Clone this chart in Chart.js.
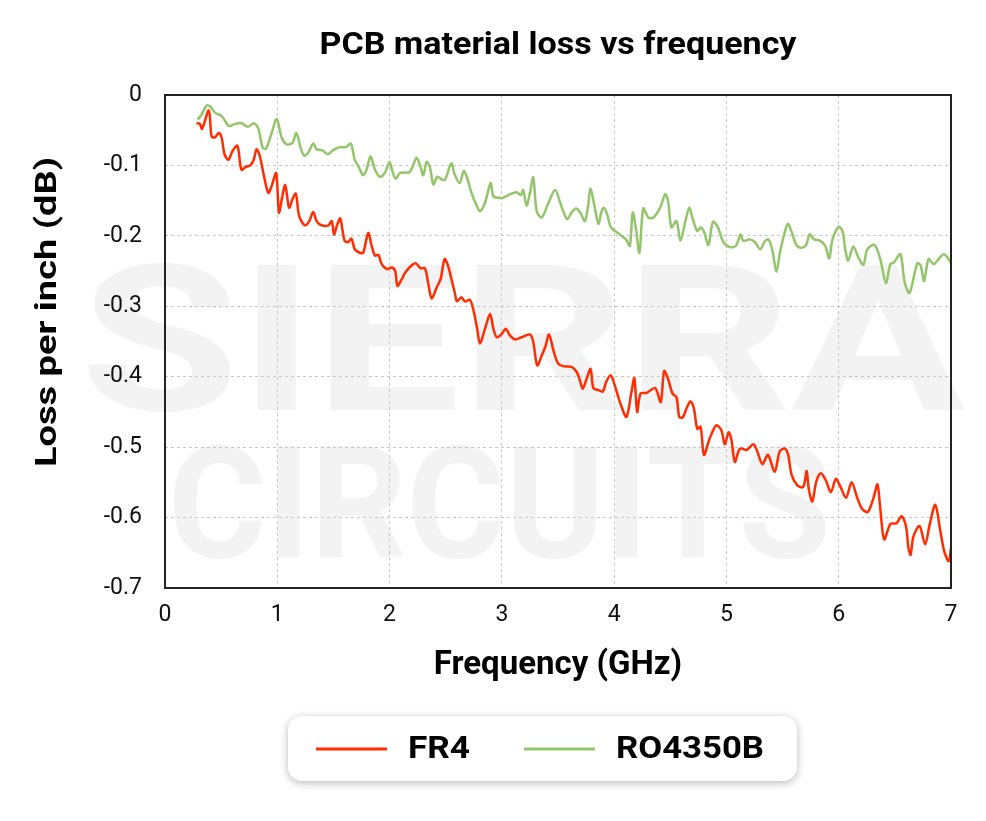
<!DOCTYPE html>
<html lang="en">
<head>
<meta charset="UTF-8">
<title>PCB material loss vs frequency</title>
<script src="https://cdn.jsdelivr.net/npm/chart.js"></script>
<style>
  html, body { margin: 0; padding: 0; background: #fff; }
  #wrap { width: 986px; height: 821px; }
</style>
</head>
<body>
<div id="wrap"><canvas id="lossChart" width="986" height="821"></canvas></div>
<script>
// axis ticks
const xTicks = [0, 1, 2, 3, 4, 5, 6, 7];
const yTicks = [0, -0.1, -0.2, -0.3, -0.4, -0.5, -0.6, -0.7];

// FR4 (GHz, dB/inch)
const fr4Freq = [0.28, 0.31, 0.33, 0.39, 0.415, 0.445, 0.48, 0.505, 0.53, 0.565, 0.6, 0.645, 0.68, 0.72, 0.76, 0.79, 0.815, 0.845, 0.875, 0.92,
  0.95, 0.99, 1.015, 1.04, 1.07, 1.105, 1.135, 1.165, 1.195, 1.245, 1.285, 1.32, 1.35, 1.395, 1.455, 1.485, 1.505, 1.53, 1.56, 1.58,
  1.6, 1.63, 1.66, 1.69, 1.735, 1.765, 1.81, 1.84, 1.87, 1.9, 1.93, 1.975, 2.02, 2.05, 2.07, 2.11, 2.14, 2.195, 2.235, 2.275,
  2.315, 2.345, 2.375, 2.42, 2.455, 2.49, 2.52, 2.55, 2.58, 2.6, 2.64, 2.67, 2.715, 2.745, 2.78, 2.805, 2.85, 2.895, 2.925, 2.955,
  3.0, 3.035, 3.07, 3.115, 3.175, 3.25, 3.28, 3.315, 3.355, 3.39, 3.42, 3.46, 3.5, 3.545, 3.62, 3.665, 3.695, 3.72, 3.755, 3.79,
  3.815, 3.86, 3.9, 3.93, 3.97, 4.005, 4.06, 4.11, 4.155, 4.18, 4.205, 4.235, 4.29, 4.365, 4.415, 4.445, 4.48, 4.52, 4.555, 4.58,
  4.61, 4.65, 4.68, 4.71, 4.74, 4.77, 4.8, 4.85, 4.91, 4.955, 4.985, 5.02, 5.045, 5.075, 5.12, 5.18, 5.24, 5.27, 5.32, 5.37,
  5.43, 5.475, 5.52, 5.55, 5.58, 5.63, 5.68, 5.7, 5.715, 5.735, 5.765, 5.8, 5.84, 5.885, 5.93, 5.975, 6.015, 6.065, 6.115, 6.165,
  6.21, 6.26, 6.31, 6.345, 6.37, 6.405, 6.46, 6.515, 6.56, 6.6, 6.62, 6.64, 6.665, 6.72, 6.77, 6.81, 6.86, 6.905, 6.94, 6.98, 7.0];
const fr4Loss = [-0.040, -0.041, -0.048, -0.022, -0.059, -0.060, -0.054, -0.061, -0.084, -0.092, -0.080, -0.072, -0.106, -0.102, -0.100, -0.092, -0.077, -0.087, -0.110, -0.139,
  -0.129, -0.111, -0.167, -0.148, -0.128, -0.160, -0.148, -0.140, -0.172, -0.185, -0.179, -0.166, -0.179, -0.185, -0.185, -0.179, -0.198, -0.186, -0.175, -0.191,
  -0.207, -0.209, -0.204, -0.219, -0.224, -0.224, -0.196, -0.214, -0.228, -0.227, -0.240, -0.247, -0.245, -0.250, -0.271, -0.261, -0.252, -0.242, -0.239, -0.246,
  -0.246, -0.268, -0.289, -0.273, -0.261, -0.233, -0.242, -0.261, -0.280, -0.293, -0.287, -0.293, -0.291, -0.304, -0.332, -0.353, -0.332, -0.311, -0.332, -0.344,
  -0.339, -0.332, -0.341, -0.347, -0.344, -0.340, -0.351, -0.384, -0.370, -0.356, -0.340, -0.363, -0.381, -0.385, -0.386, -0.393, -0.405, -0.417, -0.403, -0.389,
  -0.416, -0.419, -0.421, -0.407, -0.398, -0.412, -0.440, -0.457, -0.421, -0.402, -0.450, -0.424, -0.423, -0.416, -0.436, -0.392, -0.403, -0.424, -0.429, -0.457,
  -0.458, -0.443, -0.435, -0.445, -0.474, -0.471, -0.511, -0.488, -0.469, -0.476, -0.496, -0.479, -0.490, -0.521, -0.502, -0.504, -0.496, -0.504, -0.524, -0.511,
  -0.535, -0.506, -0.502, -0.511, -0.539, -0.554, -0.557, -0.547, -0.534, -0.561, -0.577, -0.549, -0.537, -0.547, -0.564, -0.545, -0.556, -0.572, -0.550, -0.572,
  -0.588, -0.592, -0.572, -0.553, -0.587, -0.631, -0.609, -0.608, -0.598, -0.613, -0.642, -0.653, -0.627, -0.612, -0.638, -0.610, -0.582, -0.619, -0.648, -0.662, -0.643];

// RO4350B (GHz, dB/inch)
const roFreq = [0.29, 0.325, 0.37, 0.4, 0.445, 0.505, 0.57, 0.625, 0.68, 0.74, 0.79, 0.83, 0.87, 0.9, 0.95, 0.995, 1.04, 1.085, 1.135, 1.17,
  1.21, 1.24, 1.275, 1.32, 1.35, 1.405, 1.45, 1.5, 1.555, 1.61, 1.655, 1.69, 1.725, 1.765, 1.795, 1.83, 1.87, 1.915, 1.96, 2.0,
  2.025, 2.055, 2.09, 2.14, 2.175, 2.205, 2.24, 2.27, 2.3, 2.33, 2.36, 2.39, 2.425, 2.465, 2.495, 2.55, 2.58, 2.625, 2.66, 2.685,
  2.73, 2.77, 2.805, 2.85, 2.9, 2.925, 2.97, 3.01, 3.07, 3.13, 3.17, 3.19, 3.22, 3.25, 3.28, 3.31, 3.355, 3.415, 3.475, 3.52,
  3.58, 3.625, 3.66, 3.695, 3.74, 3.77, 3.79, 3.83, 3.86, 3.885, 3.905, 3.935, 3.965, 3.99, 4.05, 4.105, 4.14, 4.165, 4.195, 4.225,
  4.26, 4.305, 4.35, 4.41, 4.455, 4.48, 4.51, 4.555, 4.59, 4.635, 4.67, 4.7, 4.74, 4.77, 4.8, 4.84, 4.88, 4.925, 4.97, 5.03,
  5.085, 5.125, 5.15, 5.21, 5.255, 5.3, 5.345, 5.375, 5.41, 5.445, 5.48, 5.545, 5.58, 5.62, 5.665, 5.71, 5.74, 5.78, 5.835, 5.88,
  5.915, 5.945, 6.0, 6.035, 6.06, 6.085, 6.13, 6.175, 6.22, 6.255, 6.32, 6.37, 6.42, 6.46, 6.49, 6.55, 6.585, 6.63, 6.7, 6.73,
  6.76, 6.8, 6.845, 6.88, 6.935, 6.97, 7.0];
const roLoss = [-0.035, -0.028, -0.015, -0.016, -0.025, -0.030, -0.044, -0.041, -0.040, -0.045, -0.040, -0.047, -0.075, -0.076, -0.054, -0.034, -0.061, -0.070, -0.068, -0.054,
  -0.076, -0.086, -0.082, -0.069, -0.077, -0.079, -0.084, -0.078, -0.074, -0.074, -0.069, -0.092, -0.102, -0.114, -0.106, -0.087, -0.106, -0.116, -0.110, -0.095,
  -0.108, -0.119, -0.111, -0.110, -0.110, -0.102, -0.089, -0.099, -0.114, -0.095, -0.103, -0.127, -0.116, -0.120, -0.120, -0.097, -0.113, -0.125, -0.108, -0.115,
  -0.139, -0.155, -0.165, -0.153, -0.125, -0.144, -0.146, -0.146, -0.141, -0.138, -0.142, -0.135, -0.157, -0.139, -0.117, -0.165, -0.174, -0.153, -0.135, -0.153,
  -0.176, -0.166, -0.161, -0.166, -0.179, -0.155, -0.133, -0.162, -0.183, -0.167, -0.160, -0.168, -0.186, -0.191, -0.198, -0.205, -0.214, -0.167, -0.191, -0.224,
  -0.161, -0.174, -0.174, -0.160, -0.141, -0.150, -0.188, -0.179, -0.207, -0.179, -0.160, -0.176, -0.193, -0.188, -0.194, -0.213, -0.180, -0.188, -0.208, -0.216,
  -0.214, -0.198, -0.207, -0.205, -0.209, -0.219, -0.207, -0.205, -0.221, -0.251, -0.221, -0.183, -0.194, -0.212, -0.217, -0.213, -0.198, -0.205, -0.207, -0.214,
  -0.232, -0.205, -0.187, -0.194, -0.221, -0.235, -0.215, -0.231, -0.241, -0.219, -0.213, -0.233, -0.267, -0.240, -0.238, -0.226, -0.264, -0.281, -0.239, -0.242,
  -0.264, -0.233, -0.240, -0.235, -0.226, -0.231, -0.239];

const seriesNames = ['FR4', 'RO4350B'];
const seriesColors = ['#ff2d00', '#93c56b'];

function toPoints(xs, ys) {
  return xs.map((x, i) => ({ x: x, y: ys[i] }));
}

// draw text squeezed/stretched to a width; align is 'left' or 'center'
function drawFitted(ctx, text, font, x, y, w, align) {
  ctx.font = font;
  const m = ctx.measureText(text).width;
  ctx.save();
  ctx.translate(x, y);
  ctx.scale(w / m, 1);
  ctx.textAlign = align || 'left';
  ctx.fillText(text, 0, 0);
  ctx.restore();
}

// watermark, frame, title, y title and boxed legend
const decor = {
  id: 'decor',
  beforeDraw(chart) {
    const ctx = chart.ctx;
    ctx.save();
    ctx.fillStyle = '#f3f3f3';
    ctx.textBaseline = 'alphabetic';
    drawFitted(ctx, 'SIERRA', 'bold 204px Roboto', 80, 410, 885);
    drawFitted(ctx, 'CIRCUITS', 'bold 155px Roboto', 168, 557, 663);
    ctx.restore();
  },
  afterDraw(chart) {
    const ctx = chart.ctx;
    const a = chart.chartArea;
    ctx.save();

    ctx.strokeStyle = '#222';
    ctx.lineWidth = 2;
    ctx.strokeRect(a.left, a.top, a.right - a.left, a.bottom - a.top);

    ctx.fillStyle = '#000';
    ctx.textBaseline = 'middle';
    drawFitted(ctx, 'PCB material loss vs frequency', 'bold 31px Roboto', (a.left + a.right) / 2, 46, 477, 'center');

    ctx.save();
    ctx.translate(48, 312);
    ctx.rotate(-Math.PI / 2);
    drawFitted(ctx, 'Loss per inch (dB)', 'bold 30px Roboto', 0, 0, 310, 'center');
    ctx.restore();

    // legend box
    ctx.save();
    ctx.shadowColor = 'rgba(0,0,0,0.28)';
    ctx.shadowBlur = 8;
    ctx.shadowOffsetY = 2;
    ctx.fillStyle = '#fff';
    ctx.beginPath();
    ctx.roundRect(288, 716, 509, 65, 14);
    ctx.fill();
    ctx.restore();

    const itemX = [316, 524];
    const textW = [62, 148];
    chart.data.datasets.forEach((ds, i) => {
      ctx.strokeStyle = ds.borderColor;
      ctx.lineWidth = 3;
      ctx.beginPath();
      ctx.moveTo(itemX[i], 749);
      ctx.lineTo(itemX[i] + 71, 749);
      ctx.stroke();
      ctx.fillStyle = '#000';
      drawFitted(ctx, ds.label, 'bold 32px Roboto', itemX[i] + 92, 750, textW[i], 'left');
    });
    ctx.restore();
  }
};

const gridStyle = {
  color: '#c8c8c8',
  lineWidth: 1,
  drawTicks: false
};

new Chart(document.getElementById('lossChart'), {
  type: 'line',
  data: {
    datasets: [
      {
        label: seriesNames[0],
        data: toPoints(fr4Freq, fr4Loss),
        borderColor: seriesColors[0],
        backgroundColor: seriesColors[0],
        borderWidth: 2.5,
        pointRadius: 0,
        tension: 0.3,
        fill: false
      },
      {
        label: seriesNames[1],
        data: toPoints(roFreq, roLoss),
        borderColor: seriesColors[1],
        backgroundColor: seriesColors[1],
        borderWidth: 2.5,
        pointRadius: 0,
        tension: 0.3,
        fill: false
      }
    ]
  },
  options: {
    responsive: false,
    animation: false,
    layout: { padding: { top: 95, right: 35, bottom: 135, left: 0 } },
    plugins: {
      legend: { display: false },
      title: { display: false },
      tooltip: { enabled: false }
    },
    scales: {
      x: {
        type: 'linear',
        min: 0,
        max: 7,
        afterFit: s => { s.height = 98; },
        afterBuildTicks: s => { s.ticks = xTicks.map(v => ({ value: v })); },
        grid: gridStyle,
        border: { display: false, dash: [3, 3] },
        ticks: {
          padding: 13,
          color: '#111',
          font: { family: 'Roboto', size: 23 },
          callback: v => String(v)
        },
        title: {
          display: true,
          text: 'Frequency (GHz)',
          color: '#000',
          font: { family: 'Roboto', size: 33, weight: 'bold' },
          padding: { top: 0, bottom: 0 }
        }
      },
      y: {
        min: -0.7,
        max: 0,
        afterFit: s => { s.width = 165; },
        afterBuildTicks: s => { s.ticks = yTicks.map(v => ({ value: v })); },
        grid: gridStyle,
        border: { display: false, dash: [3, 3] },
        ticks: {
          padding: 23,
          color: '#111',
          font: { family: 'Roboto', size: 23 },
          callback: v => (v === 0 ? '0' : v.toFixed(1))
        }
      }
    }
  },
  plugins: [decor]
});
</script>
</body>
</html>
